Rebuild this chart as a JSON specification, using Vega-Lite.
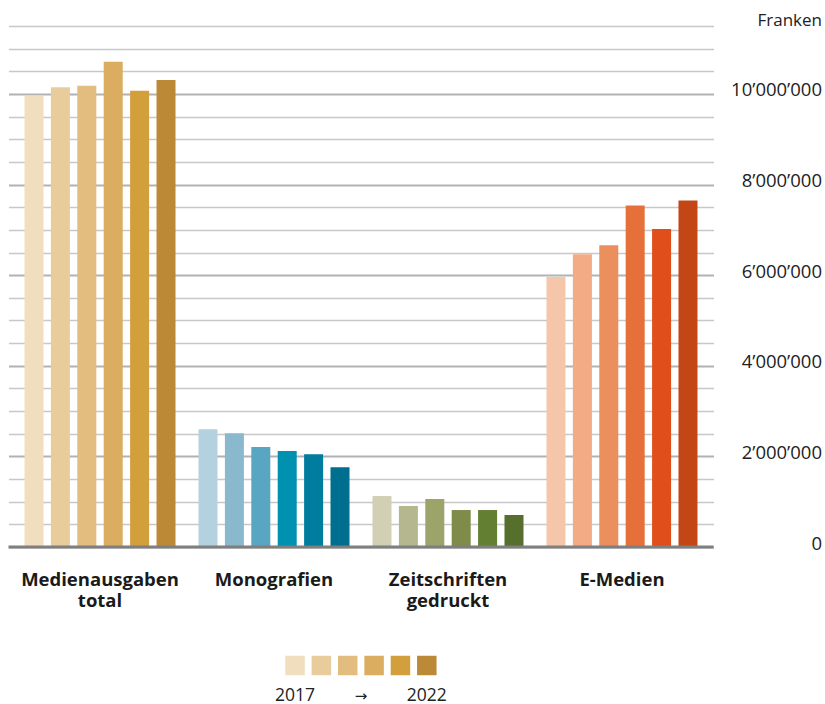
{
  "$schema": "https://vega.github.io/schema/vega-lite/v6.json",
  "padding": {"left": 6.5, "top": 11, "right": 0, "bottom": 0},
  "background": "white",
  "spacing": 41,
  "config": {
    "view": {"stroke": null},
    "font": "Open Sans",
    "axis": {"labelFont": "Open Sans", "titleFont": "Open Sans"},
    "text": {"font": "Open Sans"}
  },
  "datasets": {
    "bars": [
      {"group": "Medienausgaben total", "year": 2017, "key": "A2017", "value": 9960000},
      {"group": "Medienausgaben total", "year": 2018, "key": "A2018", "value": 10150000},
      {"group": "Medienausgaben total", "year": 2019, "key": "A2019", "value": 10180000},
      {"group": "Medienausgaben total", "year": 2020, "key": "A2020", "value": 10710000},
      {"group": "Medienausgaben total", "year": 2021, "key": "A2021", "value": 10070000},
      {"group": "Medienausgaben total", "year": 2022, "key": "A2022", "value": 10310000},
      {"group": "Monografien", "year": 2017, "key": "B2017", "value": 2600000},
      {"group": "Monografien", "year": 2018, "key": "B2018", "value": 2510000},
      {"group": "Monografien", "year": 2019, "key": "B2019", "value": 2210000},
      {"group": "Monografien", "year": 2020, "key": "B2020", "value": 2120000},
      {"group": "Monografien", "year": 2021, "key": "B2021", "value": 2050000},
      {"group": "Monografien", "year": 2022, "key": "B2022", "value": 1760000},
      {"group": "Zeitschriften gedruckt", "year": 2017, "key": "C2017", "value": 1125000},
      {"group": "Zeitschriften gedruckt", "year": 2018, "key": "C2018", "value": 905000},
      {"group": "Zeitschriften gedruckt", "year": 2019, "key": "C2019", "value": 1060000},
      {"group": "Zeitschriften gedruckt", "year": 2020, "key": "C2020", "value": 816000},
      {"group": "Zeitschriften gedruckt", "year": 2021, "key": "C2021", "value": 816000},
      {"group": "Zeitschriften gedruckt", "year": 2022, "key": "C2022", "value": 706000},
      {"group": "E-Medien", "year": 2017, "key": "D2017", "value": 5960000},
      {"group": "E-Medien", "year": 2018, "key": "D2018", "value": 6460000},
      {"group": "E-Medien", "year": 2019, "key": "D2019", "value": 6660000},
      {"group": "E-Medien", "year": 2020, "key": "D2020", "value": 7540000},
      {"group": "E-Medien", "year": 2021, "key": "D2021", "value": 7020000},
      {"group": "E-Medien", "year": 2022, "key": "D2022", "value": 7650000}
    ],
    "legendSwatches": [
      {"year": 2017, "key": "A2017", "row": "swatch"},
      {"year": 2018, "key": "A2018", "row": "swatch"},
      {"year": 2019, "key": "A2019", "row": "swatch"},
      {"year": 2020, "key": "A2020", "row": "swatch"},
      {"year": 2021, "key": "A2021", "row": "swatch"},
      {"year": 2022, "key": "A2022", "row": "swatch"}
    ],
    "legendYears": [
      {"year": 2017, "text": "2017", "row": "label"},
      {"year": 2022, "text": "2022", "row": "label"}
    ],
    "legendArrow": [
      {"year": 2019.5, "text": "→", "row": "label"}
    ],
    "baseline": [{"value": 0}]
  },
  "vconcat": [
    {
      "width": 705,
      "height": 521,
      "layer": [
        {
          "data": {"name": "bars"},
          "mark": {"type": "bar"},
          "encoding": {
            "x": {
              "field": "group",
              "type": "nominal",
              "sort": ["Medienausgaben total", "Monografien", "Zeitschriften gedruckt", "E-Medien"],
              "scale": {"paddingInner": 0, "paddingOuter": 0.026},
              "axis": {
                "title": null,
                "domain": false,
                "ticks": false,
                "labelAngle": 0,
                "labelFontWeight": "bold",
                "labelFontSize": 18.5,
                "labelColor": "#1a1a1a",
                "labelPadding": 32,
                "labelLineHeight": 21,
                "labelBaseline": "middle",
                "labelExpr": "datum.value == 'Medienausgaben total' ? ['Medienausgaben', 'total'] : datum.value == 'Zeitschriften gedruckt' ? ['Zeitschriften', 'gedruckt'] : datum.value"
              }
            },
            "xOffset": {
              "field": "year",
              "type": "ordinal",
              "scale": {"paddingInner": 0.28, "paddingOuter": 0.435}
            },
            "y": {
              "field": "value",
              "type": "quantitative",
              "scale": {"domain": [0, 11500000], "nice": false, "zero": true},
              "axis": {
                "orient": "right",
                "domain": false,
                "ticks": false,
                "tickCount": 40,
                "values": [0, 500000, 1000000, 1500000, 2000000, 2500000, 3000000, 3500000, 4000000, 4500000, 5000000, 5500000, 6000000, 6500000, 7000000, 7500000, 8000000, 8500000, 9000000, 9500000, 10000000, 10500000, 11000000, 11500000],
                "labelExpr": "datum.value % 2000000 === 0 ? replace(format(datum.value, ','), /,/g, '’') : ''",
                "labelAlign": "right",
                "labelBaseline": "middle",
                "labelOffset": -4,
                "labelPadding": 108,
                "labelFontSize": 18.5,
                "labelColor": "#222222",
                "labelOverlap": false,
                "grid": true,
                "gridColor": {"condition": {"test": "datum.value % 2000000 === 0", "value": "#b2b2b2"}, "value": "#c8c8c8"},
                "gridWidth": {"condition": {"test": "datum.value % 2000000 === 0", "value": 2}, "value": 1.5},
                "title": "Franken",
                "titleAngle": 0,
                "titleAlign": "right",
                "titleBaseline": "middle",
                "titleFontWeight": "normal",
                "titleFontSize": 17,
                "titleColor": "#222222",
                "titleX": 108,
                "titleY": -6
              }
            },
            "color": {
              "field": "key",
              "type": "nominal",
              "scale": {
                "domain": ["A2017", "A2018", "A2019", "A2020", "A2021", "A2022", "B2017", "B2018", "B2019", "B2020", "B2021", "B2022", "C2017", "C2018", "C2019", "C2020", "C2021", "C2022", "D2017", "D2018", "D2019", "D2020", "D2021", "D2022"],
                "range": ["#F0DEBF", "#E9CC9C", "#E3BC80", "#DAAD60", "#D39F3D", "#BC8A37", "#B4D1DF", "#8AB8CD", "#59A6C3", "#0090B0", "#007D9E", "#006E8E", "#D1D0B5", "#B5B88F", "#9DA46A", "#7F8B48", "#637F32", "#566F2C", "#F6C6AA", "#F2AB84", "#EC8F5F", "#E6703A", "#E04E1B", "#C34616"]
              },
              "legend": null
            }
          }
        },
        {
          "data": {"name": "baseline"},
          "mark": {"type": "rule", "color": "#7f7f7f", "strokeWidth": 3},
          "encoding": {"y": {"field": "value", "type": "quantitative"}}
        }
      ]
    },
    {
      "width": 705,
      "height": 58,
      "layer": [
        {
          "data": {"name": "legendSwatches"},
          "mark": {"type": "square", "size": 380, "filled": true, "opacity": 1},
          "encoding": {
            "x": {"field": "year", "type": "quantitative", "scale": {"domain": [2006.131, 2032.876], "nice": false, "zero": false}, "axis": null},
            "y": {"field": "row", "type": "nominal", "scale": {"type": "point", "domain": ["swatch", "label"], "padding": 0.5}, "axis": null},
            "color": {"field": "key", "type": "nominal", "legend": null}
          }
        },
        {
          "data": {"name": "legendYears"},
          "mark": {"type": "text", "fontSize": 17.5, "color": "#222222", "baseline": "middle", "align": "center", "dy": 1},
          "encoding": {
            "x": {"field": "year", "type": "quantitative", "axis": null},
            "y": {"field": "row", "type": "nominal", "axis": null},
            "text": {"field": "text", "type": "nominal"}
          }
        },
        {
          "data": {"name": "legendArrow"},
          "mark": {"type": "text", "font": "DejaVu Sans", "fontSize": 15, "color": "#222222", "baseline": "middle", "align": "center", "dy": 1},
          "encoding": {
            "x": {"field": "year", "type": "quantitative", "axis": null},
            "y": {"field": "row", "type": "nominal", "axis": null},
            "text": {"field": "text", "type": "nominal"}
          }
        }
      ]
    }
  ]
}
